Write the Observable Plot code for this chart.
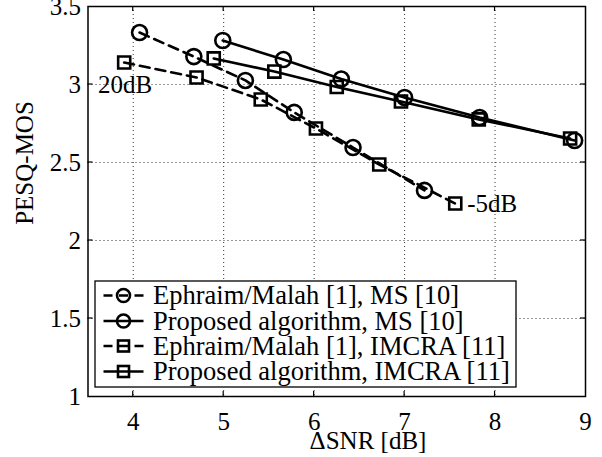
<!DOCTYPE html>
<html><head><meta charset="utf-8">
<script src="https://cdn.jsdelivr.net/npm/d3@7"></script>
<script src="https://cdn.jsdelivr.net/npm/@observablehq/plot@0.6"></script>
<style>
body{margin:0;background:#fff}
#chart{width:602px;height:457px;overflow:hidden}
</style>
</head><body><div id="chart"></div>
<script>
// ---- data ----
const seriesNames = [
  "Ephraim/Malah [1], MS [10]",
  "Proposed algorithm, MS [10]",
  "Ephraim/Malah [1], IMCRA [11]",
  "Proposed algorithm, IMCRA [11]"
];
const seriesSymbols = ["circle", "circle", "square", "square"];
const seriesDashed = [true, false, true, false];

const emMsX   = [4.07, 4.67, 5.24, 5.78, 6.43, 7.22];
const emMsY   = [3.333, 3.179, 3.026, 2.821, 2.596, 2.321];
const propMsX = [4.99, 5.66, 6.30, 7.00, 7.83, 8.88];
const propMsY = [3.282, 3.160, 3.035, 2.917, 2.788, 2.641];
const emImX   = [3.90, 4.70, 5.41, 6.02, 6.72, 7.56];
const emImY   = [3.141, 3.045, 2.904, 2.718, 2.487, 2.237];
const propImX = [4.89, 5.56, 6.25, 6.96, 7.82, 8.83];
const propImY = [3.167, 3.083, 2.984, 2.891, 2.776, 2.654];

const xTicks = [4, 5, 6, 7, 8, 9];
const yTicks = [1, 1.5, 2, 2.5, 3, 3.5];
const xGridLines = [4, 5, 6, 7, 8];
const yGridLines = [1.5, 2, 2.5, 3];
const xLabel = "ΔSNR [dB]";
const yLabel = "PESQ-MOS";
const snrLabels = ["20dB", "-5dB"];

// ---- build table ----
const seriesX = [emMsX, propMsX, emImX, propImX];
const seriesY = [emMsY, propMsY, emImY, propImY];
const rows = [];
seriesNames.forEach((name, i) => {
  seriesX[i].forEach((x, j) => rows.push({series: name, idx: i, x, y: seriesY[i][j]}));
});
const labelRows = [
  {text: snrLabels[0], x: emImX[0], y: emImY[0]},
  {text: snrLabels[1], x: emImX[emImX.length - 1], y: emImY[emImY.length - 1]}
];

const FONT = "Liberation Serif, Times New Roman, serif";
const LW = 2.6;
const DASH = "10,6";

const marks = [
  Plot.gridX(xGridLines, {stroke: "#000", strokeOpacity: 0.8, strokeWidth: 1, strokeDasharray: "1,3"}),
  Plot.gridY(yGridLines, {stroke: "#000", strokeOpacity: 0.8, strokeWidth: 1, strokeDasharray: "1,3"}),
];
seriesNames.forEach((name, i) => {
  const d = rows.filter(r => r.idx === i);
  marks.push(Plot.line(d, {x: "x", y: "y", stroke: "#000", strokeWidth: LW,
    strokeDasharray: seriesDashed[i] ? DASH : null}));
  marks.push(Plot.dot(d, {x: "x", y: "y", symbol: seriesSymbols[i],
    r: seriesSymbols[i] === "circle" ? 7.5 : 6.8, stroke: "#000", strokeWidth: LW, fill: "none"}));
});
marks.push(
  Plot.text(labelRows.slice(0, 1), {x: "x", y: "y", text: "text", dx: 1, dy: 22,
    fontSize: 25, fontFamily: FONT, fill: "#000", textAnchor: "middle"}),
  Plot.text(labelRows.slice(1), {x: "x", y: "y", text: "text", dx: 12, dy: 0,
    fontSize: 25, fontFamily: FONT, fill: "#000", textAnchor: "start"}),
  Plot.frame({stroke: "#000", strokeWidth: 1.5}),
  Plot.axisX(xTicks, {tickSize: 0, tickPadding: 16, fontSize: 25, fontFamily: FONT, label: null, tickFormat: d => String(d)}),
  Plot.axisY(yTicks, {tickSize: 0, tickPadding: 7, fontSize: 25, fontFamily: FONT, label: null, tickFormat: d => String(d)})
);

const plot = Plot.plot({
  width: 602, height: 457,
  marginLeft: 87.5, marginRight: 17, marginTop: 6, marginBottom: 61,
  style: {fontFamily: FONT, fontSize: "25px", background: "#fff", color: "#000"},
  x: {domain: [3.5, 9]},
  y: {domain: [1, 3.5]},
  marks
});
document.getElementById("chart").appendChild(plot);

// ---- inward ticks, axis labels, legend ----
const svg = d3.select(plot);
const sx = plot.scale("x"), sy = plot.scale("y");
const X = v => sx.apply(v), Y = v => sy.apply(v);
const x0 = X(3.5), x1 = X(9), y0 = Y(1), y1 = Y(3.5);
const tk = svg.append("g").attr("stroke", "#000").attr("stroke-width", 1.2);
xTicks.filter(v => v < 9).forEach(v => {
  tk.append("line").attr("x1", X(v)).attr("x2", X(v)).attr("y1", y0).attr("y2", y0 - 5);
  tk.append("line").attr("x1", X(v)).attr("x2", X(v)).attr("y1", y1).attr("y2", y1 + 5);
});
yTicks.filter(v => v > 1 && v < 3.5).forEach(v => {
  tk.append("line").attr("x1", x0).attr("x2", x0 + 5).attr("y1", Y(v)).attr("y2", Y(v));
  tk.append("line").attr("x1", x1).attr("x2", x1 - 5).attr("y1", Y(v)).attr("y2", Y(v));
});

svg.append("text").text(xLabel).attr("x", 368).attr("y", 449)
  .attr("text-anchor", "middle").attr("font-family", FONT).attr("font-size", 25).attr("fill", "#000");
svg.append("text").text(yLabel).attr("transform", "translate(33,163) rotate(-90)")
  .attr("text-anchor", "middle").attr("font-family", FONT).attr("font-size", 25).attr("fill", "#000");

// legend
const lg = svg.append("g");
const lx = 95, ly = 281, lw = 421, lh = 106;
lg.append("rect").attr("x", lx).attr("y", ly).attr("width", lw).attr("height", lh)
  .attr("fill", "#fff").attr("stroke", "#000").attr("stroke-width", 1.3);
const rowY = [295.5, 321, 346, 371.5];
seriesNames.forEach((name, i) => {
  const cy = rowY[i];
  lg.append("line").attr("x1", 103.5).attr("x2", 143.5).attr("y1", cy).attr("y2", cy)
    .attr("stroke", "#000").attr("stroke-width", LW)
    .attr("stroke-dasharray", seriesDashed[i] ? "9,6.5" : null);
  if (seriesSymbols[i] === "circle") {
    lg.append("circle").attr("cx", 123.5).attr("cy", cy).attr("r", 6.5)
      .attr("fill", "none").attr("stroke", "#000").attr("stroke-width", LW);
  } else {
    lg.append("rect").attr("x", 123.5 - 5.5).attr("y", cy - 5.5).attr("width", 11).attr("height", 11)
      .attr("fill", "none").attr("stroke", "#000").attr("stroke-width", LW);
  }
  lg.append("text").text(name).attr("x", 153).attr("y", cy).attr("dy", "0.33em")
    .attr("text-anchor", "start")
    .attr("font-family", FONT).attr("font-size", 26.5).attr("fill", "#000");
});
</script>
</body></html>
